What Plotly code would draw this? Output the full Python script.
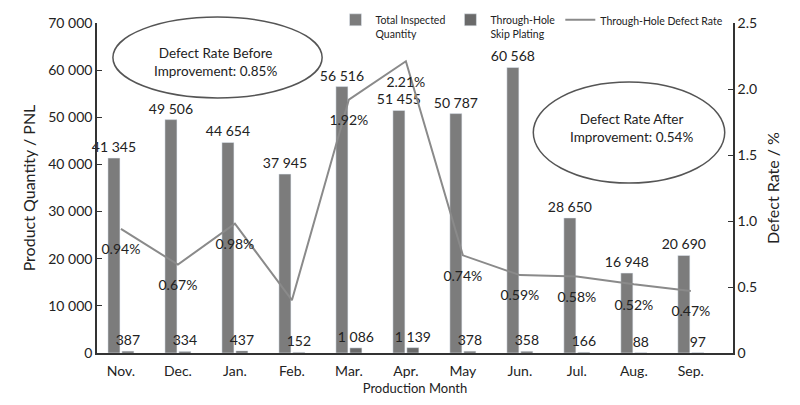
import plotly.graph_objects as go

months = ['Nov.', 'Dec.', 'Jan.', 'Feb.', 'Mar.', 'Apr.', 'May', 'Jun.', 'Jul.', 'Aug.', 'Sep.']
total_inspected = [41345, 49506, 44654, 37945, 56516, 51455, 50787, 60568, 28650, 16948, 20690]
skip_plating = [387, 334, 437, 152, 1086, 1139, 378, 358, 166, 88, 97]
defect_rate = [0.94, 0.67, 0.98, 0.40, 1.92, 2.21, 0.74, 0.59, 0.58, 0.52, 0.47]
rate_labels = ['0.94%', '0.67%', '0.98%', '', '1.92%', '2.21%', '0.74%', '0.59%', '0.58%', '0.52%', '0.47%']
rate_ticks = [0, 0.5, 1.0, 1.5, 2.0, 2.5]
rate_ticktext = ['0', '0.5', '1.0', '1.5', '2.0', '2.5']

font = 'Lato'
dark = '#222222'

fig = go.Figure()

fig.add_trace(go.Bar(
    x=months, y=total_inspected, name='Total Inspected<br>Quantity',
    marker_color='#7c7c7c', cliponaxis=False,
    texttemplate='%{y:,d}', textposition='outside', constraintext='none',
    textfont=dict(size=14, color=dark, family=font),
))
fig.add_trace(go.Bar(
    x=months, y=skip_plating, name='Through-Hole<br>Skip Plating',
    marker_color='#6a6a6a', cliponaxis=False,
    texttemplate='%{y:,d}', textposition='outside', constraintext='none',
    textfont=dict(size=14, color=dark, family=font),
))
# invisible markers only push the labels away from the line
fig.add_trace(go.Scatter(
    x=months, y=defect_rate, name='Through-Hole Defect Rate', yaxis='y2',
    mode='lines+markers+text', text=rate_labels, textposition='bottom center',
    line=dict(color='#8a8a8a', width=2),
    marker=dict(size=22, color='rgba(0,0,0,0)'),
    textfont=dict(size=14, color=dark, family=font),
))

# callout ellipses
fig.add_shape(type='circle', xref='paper', yref='paper',
              x0=0.025, x1=0.354, y0=0.773, y1=1.018,
              line=dict(color='#555555', width=1.5))
fig.add_shape(type='circle', xref='paper', yref='paper',
              x0=0.686, x1=0.987, y0=0.515, y1=0.821,
              line=dict(color='#555555', width=1.5))
fig.add_annotation(xref='paper', yref='paper', x=0.186, y=0.882,
                   xanchor='center', yanchor='middle',
                   text='Defect Rate Before<br>Improvement: 0.85%', showarrow=False,
                   font=dict(size=13.5, color=dark, family=font))
fig.add_annotation(xref='paper', yref='paper', x=0.840, y=0.682,
                   xanchor='center', yanchor='middle',
                   text='Defect Rate After<br>Improvement: 0.54%', showarrow=False,
                   font=dict(size=13.5, color=dark, family=font))

fig.update_layout(
    width=792, height=397,
    margin=dict(l=89, r=67, t=15, b=52, autoexpand=False),
    paper_bgcolor='white', plot_bgcolor='white',
    separators='. ',
    font=dict(family=font, size=14, color=dark),
    barmode='group', bargap=0.51, bargroupgap=0.14,
    showlegend=True,
    legend=dict(orientation='h', x=0.375, y=1.05, xanchor='left', yanchor='top',
                font=dict(size=10.5, color=dark), itemwidth=30, valign='top',
                bgcolor='rgba(0,0,0,0)'),
    xaxis=dict(
        title=dict(text='Production Month', font=dict(size=13), standoff=6),
        range=[-0.42, 10.74],
        showline=True, linecolor='#333333', linewidth=1.5,
        ticks='outside', ticklen=4, tickcolor='white',
        tickfont=dict(size=14), showgrid=False,
    ),
    yaxis=dict(
        title=dict(text='Product Quantity / PNL', font=dict(size=16), standoff=9),
        range=[0, 70000], dtick=10000, tickformat=',d',
        showline=True, linecolor='#333333', linewidth=1.5,
        ticks='inside', ticklen=5, tickcolor='#333333',
        tickfont=dict(size=14), showgrid=False, zeroline=False,
    ),
    yaxis2=dict(
        title=dict(text='Defect Rate / %', font=dict(size=16), standoff=12),
        overlaying='y', side='right', range=[0, 2.5],
        tickvals=rate_ticks, ticktext=rate_ticktext,
        showline=True, linecolor='#333333', linewidth=1.5,
        ticks='inside', ticklen=5, tickcolor='#333333',
        tickfont=dict(size=14), showgrid=False, zeroline=False,
    ),
)

fig.write_html('out.html')
